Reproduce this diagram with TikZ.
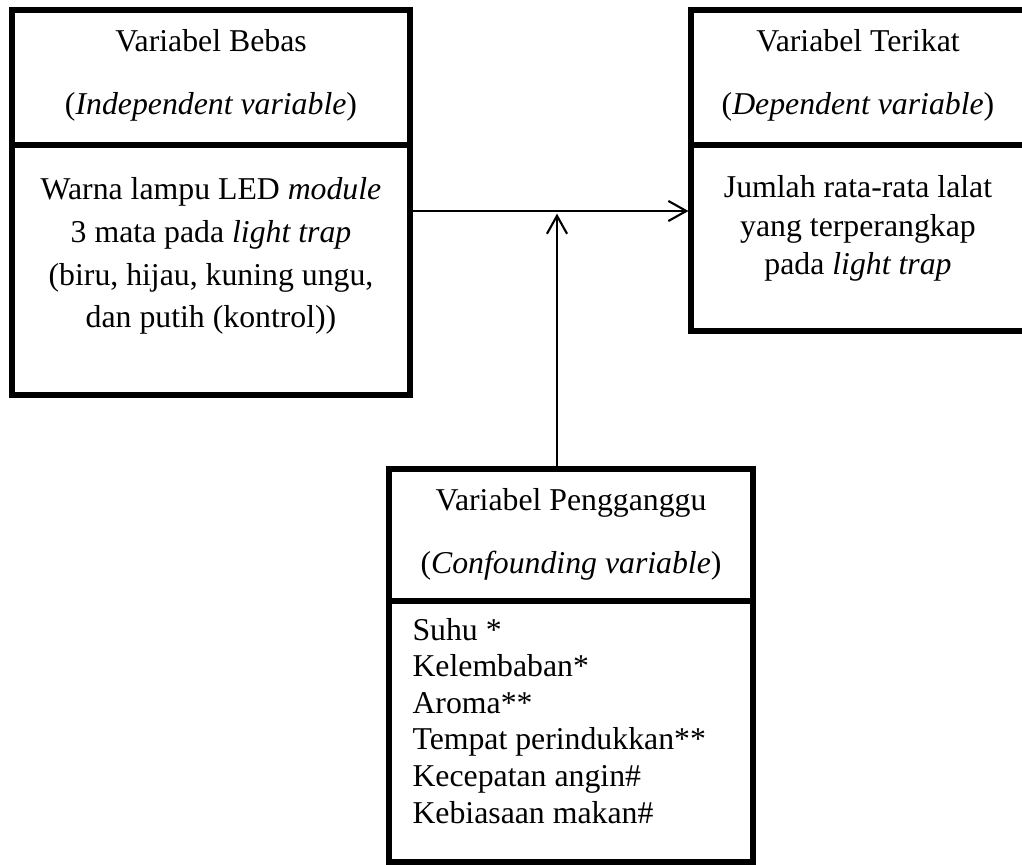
\documentclass[tikz,border=0pt]{standalone}
\usepackage{fontspec}
\setmainfont{Liberation Serif}
\usetikzlibrary{fit,arrows.meta}
\tikzset{
  kotak/.style={draw, line width=1.9pt, inner sep=0pt},
  garis/.style={line width=1.9pt},
  teks/.style={anchor=base, inner sep=0pt, font=\fontsize{12}{14}\selectfont},
  panah/.style={-{Straight Barb[length=6.8pt,width=7.6pt]}, line width=0.8pt},
}
\begin{document}
\begin{tikzpicture}[x=0.01328cm, y=-0.01328cm]
    \useasboundingbox (0,0) rectangle (1022,865);
    % kotak variabel
    \node[kotak, fit={(12,10) (410,395)}] (bebas) {};
    \node[kotak, fit={(691,10) (1027,331)}] (terikat) {};
    \node[kotak, fit={(389,469) (753,862)}] (ganggu) {};
    \coordinate (bagi1) at (0,145);
    \coordinate (bagi2) at (0,601);
    \draw[garis] (bebas.west |- bagi1) -- (bebas.east |- bagi1);
    \draw[garis] (terikat.west |- bagi1) -- (terikat.east |- bagi1);
    \draw[garis] (ganggu.west |- bagi2) -- (ganggu.east |- bagi2);
    % judul
    \node[teks] (bebasjudul) at (211,52) {Variabel Bebas};
    \node[teks] (bebasinggris) at (211,115) {(\textit{Independent variable})};
    \node[teks] (terikatjudul) at (858,52) {Variabel Terikat};
    \node[teks] (terikatinggris) at (858,115) {(\textit{Dependent variable})};
    \node[teks] (ganggujudul) at (571,510) {Variabel Pengganggu};
    \node[teks] (gangguinggris) at (571,573) {(\textit{Confounding variable})};
    % isi
    \foreach \isi [count=\i] in {Warna lampu LED \textit{module}, 3 mata pada \textit{light trap},
        {(biru, hijau, kuning ungu,}, dan putih (kontrol))}
    \node[teks] (bebas\i) at (211,{157+42.7*\i}) {\isi};
    \foreach \isi [count=\i] in {Jumlah rata-rata lalat, yang terperangkap, pada \textit{light trap}}
    \node[teks] (terikat\i) at (858,{160+38*\i}) {\isi};
    \foreach \isi [count=\i] in {Suhu *, Kelembaban*, Aroma**, Tempat perindukkan**,
        Kecepatan angin\#, Kebiasaan makan\#}
    \node[teks, anchor=base west] (ganggu\i) at (412,{603.4+36.6*\i}) {\isi};
    % panah
    \coordinate (temu) at (557,211);
    \draw[panah] (bebas.east |- temu) -- (terikat.west |- temu);
    \draw[panah] (ganggu.north -| temu) -- ([yshift=-1pt]temu);
\end{tikzpicture}
\end{document}
